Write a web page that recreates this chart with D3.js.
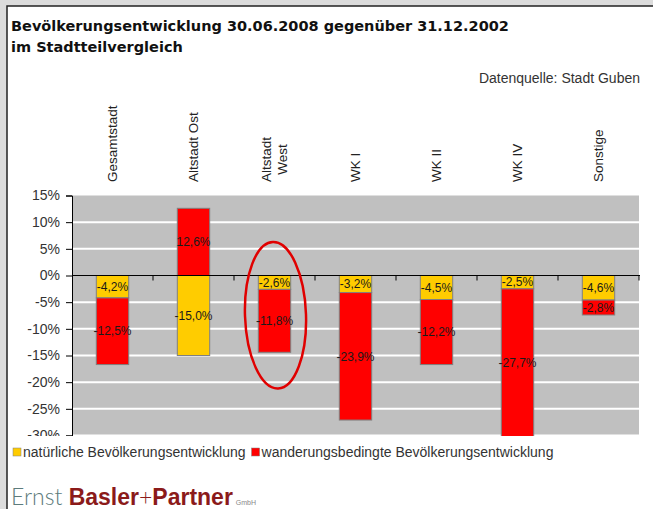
<!DOCTYPE html>
<html lang="de">
<head>
<meta charset="UTF-8">
<title>Bevölkerungsentwicklung im Stadtteilvergleich</title>
<script src="https://d3js.org/d3.v7.min.js"></script>
<style>
  body { margin: 0; background: #dcdcdc; }
  svg { display: block; font-family: "Liberation Sans", Arial, sans-serif; }
</style>
</head>
<body>
<div id="chart"></div>
<script>
    // data (percent)
    var categories = ["Gesamtstadt", "Altstadt Ost", "Altstadt\nWest", "WK I", "WK II", "WK IV", "Sonstige"];
    var natuerlich = [-4.2, -15.0, -2.6, -3.2, -4.5, -2.5, -4.6];
    var wanderung = [-12.5, 12.6, -11.8, -23.9, -12.2, -27.7, -2.8];
    var yTicks = [15, 10, 5, 0, -5, -10, -15, -20, -25, -30];
    var seriesNames = ["natürliche Bevölkerungsentwicklung", "wanderungsbedingte Bevölkerungsentwicklung"];
    var colors = ["#ffcc00", "#ff0000"];

    var w = 653, h = 509;

    var de = d3.formatLocale({decimal: ",", thousands: ".", grouping: [3], currency: ["", " €"], minus: "-"});
    var fmtLabel = function(v) { return de.format(".1f")(v) + "%"; };
    var fmtTick = function(v) { return de.format("d")(v) + "%"; };

    var svg = d3.select("#chart")
                .append("svg")
                .attr("width", w)
                .attr("height", h);

    // frame
    svg.append("rect").attr("x", 7).attr("y", 6).attr("width", w).attr("height", h)
       .attr("fill", "white").attr("stroke", "#222").attr("stroke-width", 1.5);

    svg.append("text").attr("x", 11).attr("y", 31)
       .attr("font-family", "DejaVu Sans, sans-serif")
       .attr("font-size", 14.5).attr("font-weight", "bold").attr("fill", "#111")
       .text("Bevölkerungsentwicklung 30.06.2008 gegenüber 31.12.2002");
    svg.append("text").attr("x", 11).attr("y", 52)
       .attr("font-family", "DejaVu Sans, sans-serif")
       .attr("font-size", 14.5).attr("font-weight", "bold").attr("fill", "#111")
       .text("im Stadtteilvergleich");
    svg.append("text").attr("x", 640).attr("y", 83)
       .attr("font-size", 14).attr("text-anchor", "end").attr("fill", "#333")
       .text("Datenquelle: Stadt Guben");

    var x = d3.scaleBand().domain(categories).range([72, 639]);
    var y = d3.scaleLinear().domain([15, -30]).range([195.5, 435.5]);

    var rows = categories.map(function(c, i) {
        return {cat: c, nat: natuerlich[i], wan: wanderung[i]};
    });
    var stacked = d3.stack().keys(["nat", "wan"]).offset(d3.stackOffsetDiverging)(rows);

    svg.append("clipPath").attr("id", "clip")
       .append("rect").attr("x", 0).attr("y", 0).attr("width", w).attr("height", 436);

    var g = svg.append("g").attr("clip-path", "url(#clip)");

    g.append("rect")
     .attr("x", 72).attr("y", y(15))
     .attr("width", 639 - 72).attr("height", y(-30) - y(15))
     .attr("fill", "#c0c0c0");

    g.selectAll("line.grid")
     .data(yTicks.filter(function(t) { return t !== 15 && t !== 0; }))
     .enter().append("line")
     .attr("class", "grid")
     .attr("x1", 72).attr("x2", 639)
     .attr("y1", function(d) { return y(d); })
     .attr("y2", function(d) { return y(d); })
     .attr("stroke", "white").attr("stroke-width", 2);

    var barW = x.bandwidth() * 0.4;

    var layers = g.selectAll("g.layer")
                  .data(stacked)
                  .enter().append("g")
                  .attr("class", "layer")
                  .attr("fill", function(d, i) { return colors[i]; });

    layers.selectAll("rect")
          .data(function(d) { return d; })
          .enter().append("rect")
          .attr("x", function(d) { return x(d.data.cat) + (x.bandwidth() - barW) / 2; })
          .attr("width", barW)
          .attr("y", function(d) { return y(Math.max(d[0], d[1])); })
          .attr("height", function(d) { return Math.abs(y(d[0]) - y(d[1])); })
          .attr("stroke", "#808080").attr("stroke-width", 1);

    // zero line with ticks between categories
    g.append("line").attr("x1", 72).attr("x2", 640)
     .attr("y1", y(0)).attr("y2", y(0)).attr("stroke", "black");
    g.selectAll("line.xtick")
     .data(categories)
     .enter().append("line")
     .attr("class", "xtick")
     .attr("x1", function(d) { return x(d) + x.bandwidth(); })
     .attr("x2", function(d) { return x(d) + x.bandwidth(); })
     .attr("y1", y(0)).attr("y2", y(0) + 5)
     .attr("stroke", "black");

    var yAxis = g.append("g")
                 .attr("transform", "translate(72,0)")
                 .call(d3.axisLeft(y).tickValues(yTicks).tickFormat(fmtTick).tickSize(6).tickPadding(6));
    yAxis.selectAll("text").attr("font-size", 14).attr("fill", "#333")
         .attr("font-family", "Liberation Sans, Arial, sans-serif");
    yAxis.select(".domain").attr("stroke", "black");
    yAxis.selectAll(".tick line").attr("stroke", "black");

    // value labels
    layers.selectAll("text")
          .data(function(d) { return d.map(function(p) { return {p: p, key: d.key}; }); })
          .enter().append("text")
          .attr("x", function(d) { return x(d.p.data.cat) + x.bandwidth() / 2; })
          .attr("y", function(d) { return y((d.p[0] + d.p[1]) / 2); })
          .attr("dy", "0.35em")
          .attr("text-anchor", "middle")
          .attr("font-size", 12)
          .attr("fill", "#1a1a1a")
          .attr("stroke", "none")
          .text(function(d) { return fmtLabel(d.p.data[d.key]); });

    // category labels, rotated, bottom aligned above plot
    categories.forEach(function(c) {
        var lines = c.split("\n");
        var t = svg.append("text")
                   .attr("font-size", 13.5).attr("fill", "#222")
                   .attr("text-anchor", "middle");
        lines.forEach(function(l, i) {
            t.append("tspan").attr("class", "l").text(l);
        });
        var maxLen = 0;
        t.selectAll("tspan").each(function() { maxLen = Math.max(maxLen, this.getComputedTextLength()); });
        var cx = x(c) + x.bandwidth() / 2;
        var cy = 182 - maxLen / 2;
        var lh = 16;
        t.attr("transform", "translate(" + cx + "," + cy + ") rotate(-90)");
        t.selectAll("tspan")
         .attr("x", 0)
         .attr("y", function(d, i) { return (i - (lines.length - 1) / 2) * lh; })
         .attr("dy", "0.35em");
    });

    // hand drawn highlight around Altstadt West
    var hx = x("Altstadt\nWest") + x.bandwidth() / 2;
    svg.append("ellipse")
       .attr("cx", hx + 1).attr("cy", (y(6.3) + y(-21.2)) / 2)
       .attr("rx", 30.5).attr("ry", (y(-21.2) - y(6.3)) / 2)
       .attr("transform", "rotate(-2," + (hx + 1) + "," + ((y(6.3) + y(-21.2)) / 2) + ")")
       .attr("fill", "none").attr("stroke", "#e00000").attr("stroke-width", 2.5);

    // legend
    var legend = svg.append("g").attr("font-size", 14).attr("fill", "#333");
    var lx = 13;
    seriesNames.forEach(function(n, i) {
        legend.append("rect").attr("x", lx).attr("y", 448).attr("width", 8).attr("height", 8)
              .attr("fill", colors[i]).attr("stroke", "#808080").attr("stroke-width", 0.5);
        var t = legend.append("text").attr("x", lx + 10).attr("y", 457).text(n);
        lx += 10 + t.node().getComputedTextLength() + 6;
    });

    // logo
    var logo = svg.append("text").attr("x", 11).attr("y", 505).attr("font-size", 23);
    logo.append("tspan").attr("font-family", "Lato, sans-serif").attr("font-weight", 300)
        .attr("fill", "#5d7b7b").text("Ernst ");
    logo.append("tspan").attr("font-weight", "bold").attr("fill", "#8b1a1a").text("Basler");
    logo.append("tspan").attr("font-family", "Lato, sans-serif").attr("font-weight", 300)
        .attr("fill", "#8b1a1a").text("+");
    logo.append("tspan").attr("font-weight", "bold").attr("fill", "#8b1a1a").text("Partner");
    logo.append("tspan").attr("font-size", 7).attr("fill", "#888").attr("dx", 3).text("GmbH");
</script>
</body>
</html>
